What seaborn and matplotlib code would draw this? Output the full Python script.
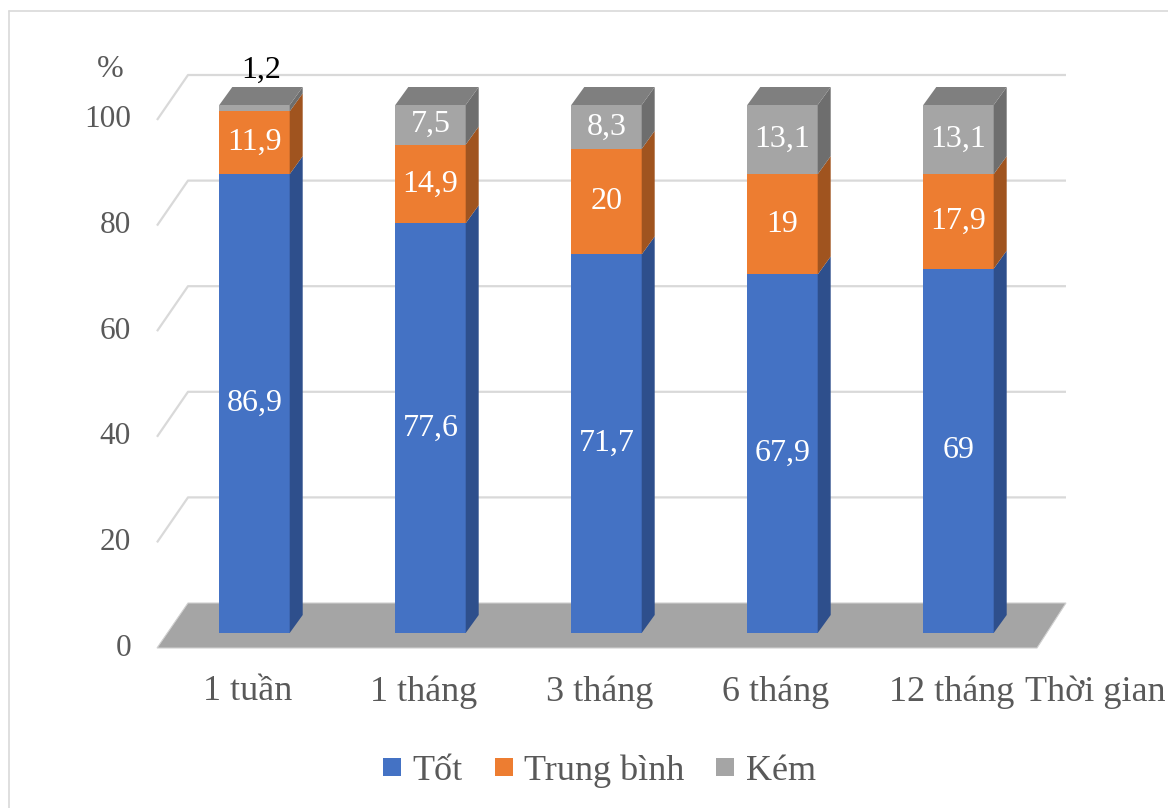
import pandas as pd
import seaborn as sns
import matplotlib.pyplot as plt
from matplotlib.patches import Polygon
from matplotlib.lines import Line2D

# Data
categories = ["1 tuần", "1 tháng", "3 tháng", "6 tháng", "12 tháng"]
tot = [86.9, 77.6, 71.7, 67.9, 69]
trung_binh = [11.9, 14.9, 20, 19, 17.9]
kem = [1.2, 7.5, 8.3, 13.1, 13.1]
series_names = ["Tốt", "Trung bình", "Kém"]
y_ticks = [0, 20, 40, 60, 80, 100]

# Colours (front, side, top faces)
colors = ["#4472C4", "#ED7D31", "#A5A5A5"]
side_colors = ["#2E4F8C", "#A0541F", "#6E6E6E"]
top_colors = ["#3A63AD", "#C8662A", "#7F7F7F"]
grid_color = "#D9D9D9"
text_color = "#595959"

sns.set_style("white")
plt.rcParams["font.family"] = ["Liberation Serif", "DejaVu Serif"]

W, H = 1168, 808
fig = plt.figure(figsize=(W / 100, H / 100), dpi=100)
ax = fig.add_axes([0, 0, 1, 1])

# pixel -> data helpers (axes covers whole figure)
SX, SY = 176, 5.28
def px(x):
    return (x - 254.5) / SX
def py(y):
    return (633 - y) / SY

front = -15 / SY   # offset of the floor's front edge from bar front plane
back = 30 / SY     # offset of the back wall
ddx, ddy = 13 / SX, 18 / SY   # bar depth

# stacked bars via cumulative heights, tallest first
df = pd.DataFrame({"Tốt": tot, "Trung bình": trung_binh, "Kém": kem})
cum = df[series_names].cumsum(axis=1)
cum["cat"] = categories
for name, c in reversed(list(zip(series_names, colors))):
    sns.barplot(data=cum, x="cat", y=name, color=c, width=0.4, saturation=1,
                errorbar=None, linewidth=0, zorder=3, ax=ax)
bars = list(ax.patches[:len(categories)])

# gridlines in perspective
for v in y_ticks[1:]:
    ax.plot([px(157), px(188), px(1066)], [v + front, v + back, v + back],
            color=grid_color, lw=1.6, zorder=1, solid_capstyle="butt")

# floor
ax.add_patch(Polygon([(px(157), front), (px(188), back), (px(1066), back), (px(1037), front)],
                     closed=True, facecolor="#A5A5A5", edgecolor="#D0D0D0", lw=0.8, zorder=2))

# 3D side/top faces and value labels
for j, bar in enumerate(bars):
    x0 = bar.get_x()
    x1 = x0 + bar.get_width()
    xc = (x0 + x1) / 2
    lo = 0
    for i, name in enumerate(series_names):
        hi = cum.loc[j, name]
        ax.add_patch(Polygon([(x1, lo), (x1 + ddx, lo + ddy), (x1 + ddx, hi + ddy), (x1, hi)],
                             closed=True, facecolor=side_colors[i], lw=0, zorder=3))
        val = df.loc[j, name]
        txt = f"{val:g}".replace(".", ",")
        if val < 3:
            ax.text(xc + ddx / 2, hi + 6.5, txt, ha="center", va="center",
                    fontsize=23, color="black", zorder=5)
        else:
            ax.text(xc, (lo + hi) / 2, txt, ha="center", va="center",
                    fontsize=23, color="white", zorder=5)
        lo = hi
    ax.add_patch(Polygon([(x0, lo), (x0 + ddx, lo + ddy), (x1 + ddx, lo + ddy), (x1, lo)],
                         closed=True, facecolor=top_colors[-1], lw=0, zorder=3))

# axis texts
for v in y_ticks:
    ax.text(px(131), v + front, str(v), ha="right", va="center", fontsize=22.5, color=text_color)
ax.text(px(110), py(70), "%", ha="center", va="center", fontsize=23, color=text_color)
for j, bar in enumerate(bars):
    xc = bar.get_x() + bar.get_width() / 2
    ax.text(xc - 7 / SX, py(692), categories[j], ha="center", va="center",
            fontsize=26, color=text_color)
ax.text(px(1025), py(692), "Thời gian", ha="left", va="center", fontsize=26, color=text_color)

# legend
handles = [Line2D([], [], marker="s", ls="", markersize=13.5, markerfacecolor=c,
                  markeredgewidth=0) for c in colors]
ax.legend(handles, series_names, loc="center", bbox_to_anchor=(0.513, (H - 771) / H),
          ncol=3, frameon=False, fontsize=26, handlelength=0.55, handletextpad=0.3,
          columnspacing=0.85, labelcolor=text_color)

ax.set_xlim(px(0), px(W))
ax.set_ylim(py(H), py(0))
ax.set_axis_off()

# chart border
fig.add_artist(Line2D([8.5 / W, 8.5 / W], [0, (H - 11) / H], transform=fig.transFigure,
                      color=grid_color, lw=1.2))
fig.add_artist(Line2D([8.5 / W, 1], [(H - 11) / H, (H - 11) / H], transform=fig.transFigure,
                      color=grid_color, lw=1.2))

fig.savefig("out.png", dpi=100)
